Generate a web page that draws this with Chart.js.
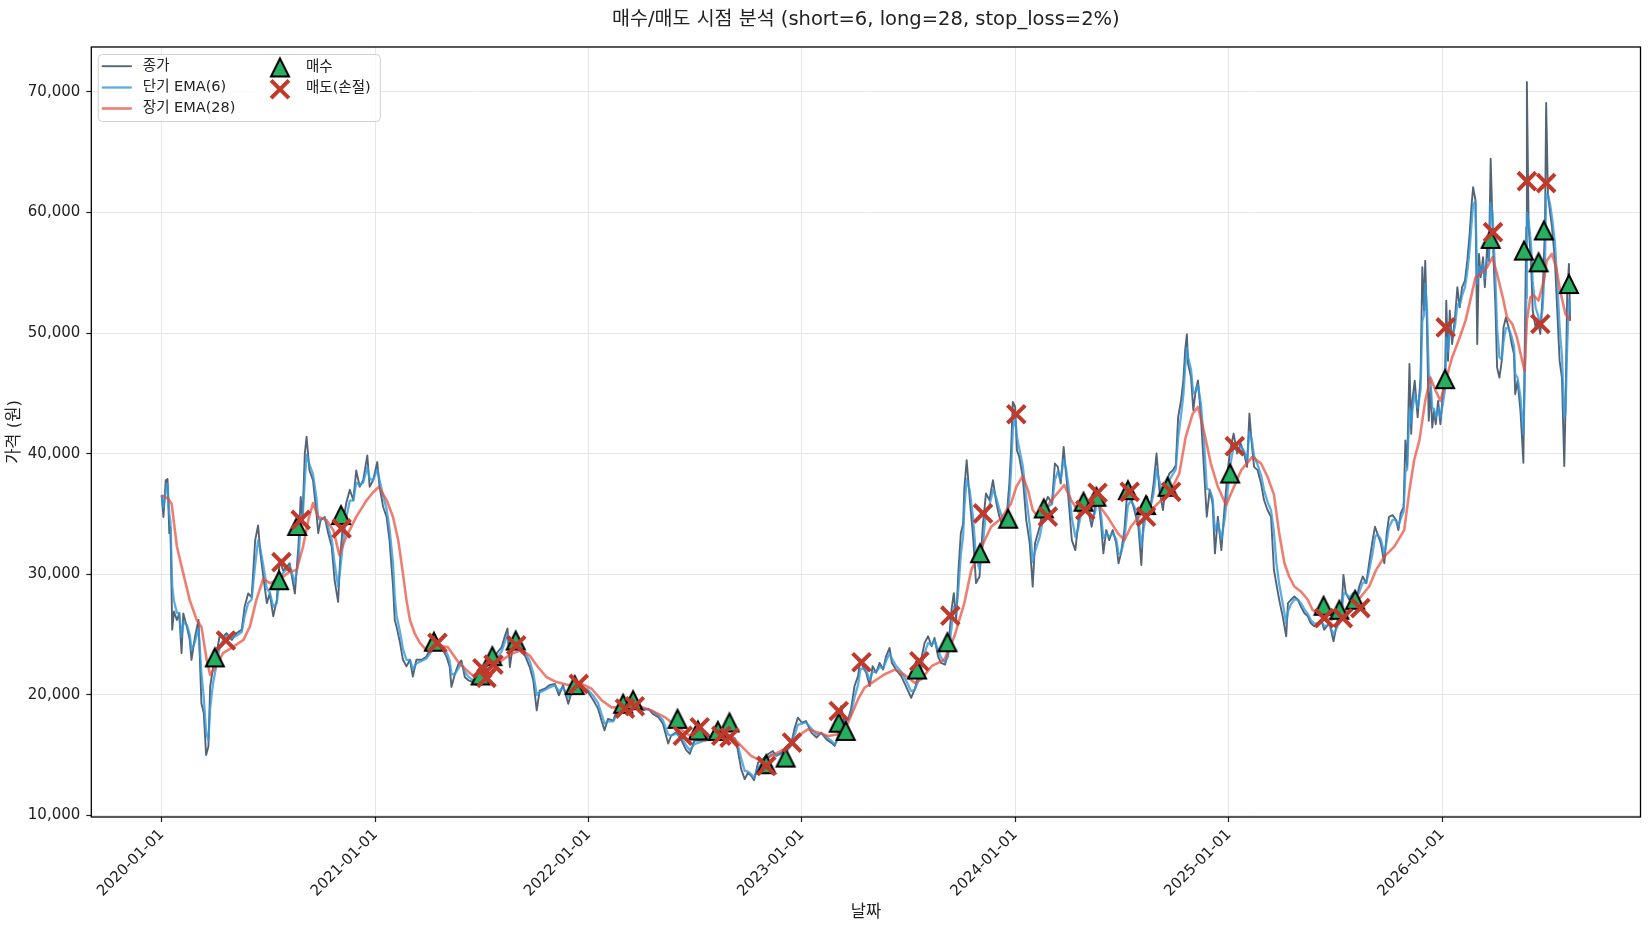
<!DOCTYPE html>
<html>
<head>
<meta charset="utf-8">
<script src="https://cdn.jsdelivr.net/npm/chart.js@4.4.1/dist/chart.umd.min.js"></script>
<style>
  html, body { margin: 0; padding: 0; background: #fff; }
  #wrap { width: 1650px; height: 930px; }
</style>
</head>
<body>
<div id="wrap"><canvas id="signalChart" width="1650" height="930"></canvas></div>
<script>
const FONT = '"DejaVu Sans", "Noto Sans CJK KR", sans-serif';
const TEXT = '#222';

// x values are days counted from 2020-01-01
const closeDays = [
  0,3,7,10,13,15,18,21,26,30,
  34,37,43,48,51,57,63,68,72,76,
  80,83,88,94,100,105,111,120,128,137,
  142,148,154,160,165,169,174,180,185,191,
  197,202,208,214,219,228,234,238,241,245,
  248,253,259,265,268,272,279,285,291,296,
  302,306,311,316,322,328,333,339,345,352,
  356,362,369,373,379,385,390,396,399,402,
  408,413,419,425,430,436,445,453,462,
  468,479,488,493,496,502,508,513,519,525,
  533,539,547,556,565,573,582,587,592,596,
  600,604,613,622,630,636,642,647,656,664,
  673,680,687,696,701,710,719,730,739,747,
  753,758,764,773,781,790,798,807,815,824,
  833,841,850,858,867,872,881,890,898,904,
  912,924,935,947,958,
  969,981,986,992,998,1004,1009,1014,1021,1029,
  1038,1046,1052,1061,1069,1078,1083,1089,1096,1103,
  1112,1121,1129,1138,1146,1152,1158,1163,1169,1175,
  1180,1186,1192,1196,1200,1206,1212,1217,1223,1229,
  1235,1240,1246,1250,1257,1266,1274,1283,1289,1295,
  1300,1306,1312,1318,1323,1329,1334,1341,1346,1352,
  1356,1360,1364,1368,1372,1374,1378,1383,1389,1394,
  1400,1406,1411,1417,1423,1429,1434,1440,
  1446,1451,1454,1457,1461,1464,1468,1474,1480,1486,
  1491,1495,1503,1508,1517,1524,1529,1534,1539,1544,
  1548,1552,1558,1564,1569,1575,1581,1586,1592,1597,
  1602,1608,1612,1617,1622,1628,1634,1638,1642,1648,
  1654,1659,1665,1672,1677,1681,1687,1692,1698,1703,
  1708,1714,1719,1725,1731,1736,1740,1745,1749,1752,
  1755,1757,1762,1766,1770,1774,1779,1785,1789,1794,
  1799,1803,1808,1814,1820,1825,1829,1835,1841,1847,
  1853,1858,1862,1866,1870,1876,1882,1887,1893,1899,
  1904,
  1908,1913,1919,1925,1928,1933,1939,1945,1950,1956,
  1962,1967,1973,1979,1985,1990,1999,2006,2013,2019,
  2023,2027,2033,2039,2044,2050,2056,2062,2067,2073,
  2077,2081,2087,2093,2097,2101,2107,2113,2117,2121,
  2126,2129,2132,2136,2139,2141,2145,2150,
  2155,2158,2161,2163,2166,2169,2172,2175,2178,2181,
  2185,2189,2193,2197,2199,2202,2205,2209,2214,2218,
  2222,2226,2231,2235,2239,2242,2245,2249,2252,2255,
  2258,2262,2265,2269,2272,2275,2278,2280,2283,2286,
  2290,2294,2297,2301,2306,2311,2315,2317,2321,2326,
  2331,2333,2336,2337,2340,2344,2347,2352,2356,2360,
  2364,2368,2370,2373,2377,2380,2385,2389,2393,2397,
  2401,2403,2406,2409,2411
];

const closeVals = [
  36550,34750,37800,37900,33400,33900,25400,26900,26200,26750,
  23450,26750,25650,24550,22900,24800,26200,19300,18500,15000,
  15700,20700,22300,23450,25100,24800,25100,24550,25100,25400,
  27300,28400,28100,32800,34050,31700,29800,27600,28400,26500,
  27850,31150,30300,30600,30900,28400,32300,36400,34500,40000,
  41400,38600,37800,35000,33400,34500,34750,33400,32300,29500,
  27700,31700,34500,35900,37000,36150,38600,37250,37800,39850,
  37250,37800,39300,37250,35600,34750,32800,29000,26200,25650,
  24300,22900,22350,22900,21500,22900,22900,23150,24000,
  24800,23950,23100,22300,20650,21750,22550,22850,21450,21200,
  21050,20800,21200,22300,22850,23400,23950,24800,25500,22300,
  23700,24800,23700,23250,22300,21200,18700,20350,20500,20800,
  20900,19950,20800,19250,20100,20500,20800,20200,19550,18850,
  17850,17050,18000,17850,18950,19550,19550,19250,18950,18700,
  18850,18400,18150,17600,15950,16600,16900,16200,15400,15100,
  16200,16200,16500,16700,16500,
  16720,16300,15480,13830,13000,13550,13280,12900,14380,14650,
  15070,15340,14930,15200,15480,16030,17130,18100,17680,17820,
  16860,16450,16860,16300,16030,15760,16580,19060,17680,17960,
  18790,20720,21540,22920,22370,21820,20720,22370,21820,22640,
  22090,23190,23880,22640,22090,21540,20720,19750,20440,21540,
  22920,24300,24850,24020,24710,23190,22640,22500,23470,27050,
  28430,26230,30360,33390,34210,37110,39450,36420,33110,29260,
  29810,34210,36690,36140,37800,35870,34770,33940,
  34490,37520,40280,44290,43870,40280,39730,38080,34490,32560,
  28970,32560,33940,35320,36420,35870,39180,38900,37520,40560,
  38350,36420,32830,32000,34210,36420,35870,35320,33940,35320,
  36970,34210,31730,33660,32830,33660,32560,30900,31730,33660,
  37520,36420,35320,33940,30760,34770,36420,35320,37520,40010,
  36970,35320,37520,38350,38630,39040,43040,44420,46080,48560,
  49890,47460,46360,43600,45250,46080,43040,38080,34770,36970,
  35870,31730,34770,32000,35870,38630,40280,41660,40010,40840,
  40010,38900,43320,40840,38900,38630,37520,36150,35320,34770,
  30350,
  29250,27880,26500,24850,27600,27880,28150,27880,27330,26780,
  26500,25950,25670,25950,26220,25400,25950,24430,26220,26500,
  29940,28430,27880,28430,27600,28980,29810,29250,30910,32840,
  33940,33390,32560,30910,33390,34760,34900,34490,33660,35040,
  35590,41100,38900,47440,41650,44410,46060,43030,
  46300,55460,51860,56010,50470,42720,45490,42160,43550,42440,
  44380,42440,44930,46300,52690,47700,51860,49090,51300,53800,
  52130,53800,54350,56010,58230,60440,62110,61000,49090,56570,
  54630,56290,53800,57120,56010,64460,59340,56010,52410,47150,
  46300,47700,50470,51300,50470,49090,48250,44930,46040,43550,
  39250,47700,58780,70830,58780,56010,51860,50470,51030,49920,
  53240,58780,69090,61550,59890,58780,56010,51860,47700,46300,
  38970,43550,53240,55740,51030
];

// short EMA(6), read at the same days as the close
const ema6Vals = [
  36550,35500,36900,37500,35000,34400,29000,27800,26800,26800,
  24800,26000,25800,25000,23700,24400,25500,21800,19800,16900,
  16200,18900,21000,22500,24100,24500,24900,24700,24900,25200,
  26500,27600,27900,30800,32800,32100,30700,28800,28500,27300,
  27600,29700,30100,30400,30700,29300,31100,34300,34400,37800,
  39900,39100,38300,36300,34600,34500,34700,33900,32900,30900,
  29000,30600,32900,34700,36100,36100,37600,37400,37600,38900,
  37900,37800,38700,37800,36500,35400,33800,30900,28100,26600,
  25200,23800,22900,22900,22100,22600,22800,23000,23600,
  24300,24100,23500,22800,21700,21700,22200,22600,21900,21500,
  21200,21000,21100,21800,22400,23000,23600,24300,25000,23400,
  23600,24300,23900,23500,22800,21800,20000,20200,20400,20600,
  20800,20300,20600,19800,20000,20300,20600,20400,19900,19300,
  18400,17600,17800,17800,18500,19100,19400,19300,19100,18800,
  18800,18600,18300,17900,16700,16600,16800,16400,15800,15400,
  15900,16100,16300,16500,16500,
  16600,16400,15900,14700,13700,13600,13400,13100,13900,14400,
  14800,15100,15000,15100,15300,15800,16600,17500,17600,17700,
  17200,16700,16800,16500,16200,15900,16300,17900,17800,17900,
  18400,19800,20800,22100,22200,22000,21200,21900,21900,22300,
  22200,22800,23400,23000,22400,21900,21200,20300,20400,21100,
  22200,23500,24300,24100,24500,23700,23100,22700,23200,25500,
  27300,26700,28900,31600,33200,35500,37900,37000,34700,31400,
  30400,32700,35100,35700,37000,36300,35400,34500,
  34500,36300,38700,42000,43100,41400,40400,39000,36300,34100,
  31000,31900,33100,34400,35600,35800,37800,38500,37900,39500,
  38800,37400,34700,33100,33800,35300,35600,35400,34500,35000,
  36200,35000,33000,33400,33100,33400,32900,31700,31700,32900,
  35700,36100,35600,34600,32300,33800,35400,35400,36700,38700,
  37700,36300,37000,37800,38300,38700,41300,43200,44900,47100,
  48800,48000,47000,45000,45100,45700,44100,40500,37100,37000,
  36300,33600,34300,32900,34700,37100,39000,40600,40200,40600,
  40200,39400,41800,41200,39800,39100,38200,37000,36000,35300,
  33500,
  31000,29200,27600,25900,26900,27500,27900,27900,27600,27100,
  26700,26200,25900,25900,26100,25700,25800,25000,25700,26200,
  28400,28400,28100,28300,27900,28500,29300,29300,30300,31800,
  33100,33300,32900,31700,32700,33900,34500,34500,34000,34600,
  35200,38500,38700,43700,42500,43600,45000,43800,
  45300,51000,51500,54100,52000,46700,46000,43800,43700,43000,
  43800,43000,44100,45400,49600,48500,50400,49700,50600,52400,
  52300,53100,53800,55100,56900,58900,60700,60900,54100,55500,
  55000,55700,54600,56100,56000,60800,60000,57700,54700,50400,
  48000,47800,49300,50400,50400,49700,48900,46600,46300,44700,
  41600,45100,52900,60000,59300,57400,54200,52100,51500,50600,
  52100,55900,61500,61500,60600,59600,57500,54300,50500,48100,
  43000,43300,48900,52800,52000
];

const ema28Days = [
  0,11,17,26,37,48,60,68,77,83,
  91,105,123,140,151,162,174,185,197,208,
  219,231,242,251,259,268,282,294,304,316,
  333,351,362,372,385,396,405,413,419,425,
  433,442,453,465,490,508,525,542,559,582,
  599,616,630,644,659,676,696,719,736,753,
  770,793,815,838,861,884,907,929,958,975,
  992,1009,1026,1043,1066,1089,1106,1123,1141,1158,
  1175,1192,1203,1220,1237,1255,1271,1289,1300,1318,
  1340,1357,1374,1386,1397,1409,1420,1437,1454,1463,
  1474,1483,1491,1500,1511,1528,1545,1557,1571,1585,
  1602,1619,1637,1648,1659,1677,1694,1711,1728,1742,
  1753,1765,1774,1785,1796,1808,1822,1833,1848,1867,
  1882,1893,1904,1913,1922,1930,1939,1950,1962,1970,
  1985,2002,2019,2036,2053,2067,2079,2093,2110,2127,
  2136,2144,2153,2163,2172,2181,2189,2198,2209,2220,
  2232,2240,2249,2258,2269,2278,2286,2297,2303,2312,
  2320,2329,2333,2337,2343,2349,2357,2366,2371,2380,
  2387,2394,2403,2411
];
const ema28Vals = [
  36550,36250,35850,32300,30050,27850,26200,25650,22900,21650,
  22200,23450,24000,24550,25650,27850,29650,29250,29500,29800,
  30200,30350,32300,34500,35900,34750,34500,33650,31600,33100,
  34750,36150,36800,37250,36150,34750,32800,30050,27850,26200,
  25100,24300,23700,24100,23950,22700,21900,21200,21600,22850,
  23400,23700,23250,22300,21450,21050,20800,20900,20500,19550,
  18950,18950,19100,18700,18150,17300,16500,16200,16400,16580,
  15760,14930,14520,14930,15480,16580,17130,16860,16580,16720,
  17680,19610,20580,21130,21680,22090,21680,20990,21270,22370,
  22920,24850,27600,30360,31460,32840,33940,34630,35870,37250,
  38130,36970,35320,34770,35320,36420,37390,36150,35040,35320,
  35870,34770,33390,32830,33940,35040,35320,36150,36970,38350,
  41390,43320,43870,41660,39180,37250,35730,36970,38630,39730,
  39180,38080,36600,33390,30910,29810,28980,28570,27880,27050,
  26500,26220,26640,27330,28150,28980,30360,31460,32290,33660,
  36970,39450,41100,44380,46300,45200,44380,46040,47980,49360,
  51030,52690,54630,54900,55460,56290,54900,52690,51300,50750,
  49640,47700,46870,51030,52970,53100,52690,54350,56010,56570,
  55460,53520,51580,51030
];

const buyDays = [91,201,232,307,466,546,566,606,707,790,807,883,918,952,972,1035,1068,1159,1171,1293,
  1345,1401,1449,1510,1578,1600,1654,1685,1722,1829,1989,2016,2043,2197,2275,2332,2357,2366,2409];
const buyVals = [23100,29500,34000,34900,24400,21600,23200,24500,20800,19250,19550,18000,17040,17000,17700,14240,14790,17680,17000,22090,
  24350,31740,34600,35450,36010,36420,36970,35730,37250,38350,27380,27050,27880,46180,57810,56840,55870,58510,54070];

const sellDays = [110,205,238,308,472,549,556,568,607,714,793,810,892,921,958,972,1035,1079,1159,1198,
  1297,1350,1406,1463,1517,1581,1602,1657,1685,1728,1837,1990,2022,2052,2198,2279,2337,2360,2370];
const sellVals = [24500,31000,34500,33800,24300,22200,21400,22500,24100,20900,18850,19050,16600,17300,16600,16450,14100,16030,18650,22700,
  22780,26560,35040,43270,34770,35320,36750,36830,34770,36830,40620,26360,26360,27190,50470,58370,62600,50750,62440];

const xTickDays = [0, 366, 731, 1096, 1461, 1827, 2192];
const xTickLabels = ['2020-01-01', '2021-01-01', '2022-01-01', '2023-01-01', '2024-01-01', '2025-01-01', '2026-01-01'];
const yTickVals = [10000, 20000, 30000, 40000, 50000, 60000, 70000];

const titleText = '매수/매도 시점 분석 (short=6, long=28, stop_loss=2%)';
const seriesNames = ['종가', '단기 EMA(6)', '장기 EMA(28)', '매수', '매도(손절)'];

const closeColor = 'rgba(52, 73, 94, 0.85)';
const ema6Color = 'rgba(52, 152, 219, 0.8)';
const ema28Color = 'rgba(231, 76, 60, 0.72)';
const buyFill = '#27ae60';
const sellColor = '#c0392b';

function toPoints(xs, ys) {
  return xs.map((x, i) => ({ x: x, y: ys[i] }));
}

// matplotlib-like "^" marker as a small canvas
function makeTriangle(size) {
  const c = document.createElement('canvas');
  c.width = c.height = Math.ceil(size + 8);
  const g = c.getContext('2d');
  const m = c.width / 2, h = size / 2;
  g.beginPath();
  g.moveTo(m, m - h);
  g.lineTo(m - h, m + h);
  g.lineTo(m + h, m + h);
  g.closePath();
  g.fillStyle = buyFill;
  g.fill();
  g.lineJoin = 'miter';
  g.lineWidth = 2;
  g.strokeStyle = '#000';
  g.stroke();
  return c;
}
const triangle = makeTriangle(18);

// title, frame and the two-column legend
const decorations = {
  id: 'decorations',
  afterDraw(chart) {
    const { ctx, chartArea: a } = chart;
    ctx.save();

    ctx.fillStyle = TEXT;
    ctx.font = '19.5px ' + FONT;
    ctx.textAlign = 'center';
    ctx.textBaseline = 'middle';
    ctx.fillText(titleText, (a.left + a.right) / 2, 20);

    ctx.strokeStyle = '#000';
    ctx.lineWidth = 1.3;
    ctx.strokeRect(a.left, a.top, a.right - a.left, a.bottom - a.top);

    const bx = a.left + 7, by = a.top + 7.5, bw = 282, bh = 67;
    ctx.beginPath();
    ctx.roundRect(bx, by, bw, bh, 4);
    ctx.fillStyle = 'rgba(255,255,255,0.8)';
    ctx.fill();
    ctx.strokeStyle = '#d0d0d0';
    ctx.lineWidth = 1;
    ctx.stroke();

    const rows = [by + 11.7, by + 33, by + 54];
    const lines = [[closeColor, 1.9], [ema6Color, 2.3], [ema28Color, 2.6]];
    ctx.font = '14.5px ' + FONT;
    ctx.textAlign = 'left';
    ctx.textBaseline = 'middle';
    lines.forEach((l, i) => {
      ctx.beginPath();
      ctx.moveTo(bx + 3.5, rows[i]);
      ctx.lineTo(bx + 33.5, rows[i]);
      ctx.strokeStyle = l[0];
      ctx.lineWidth = l[1];
      ctx.stroke();
      ctx.fillStyle = TEXT;
      ctx.fillText(seriesNames[i], bx + 44.5, rows[i]);
    });

    const mx = bx + 181.7;
    ctx.drawImage(triangle, mx - triangle.width / 2, by + 13 - triangle.height / 2);
    const xy = by + 34.7, r = 8.9;
    ctx.beginPath();
    ctx.moveTo(mx - r, xy - r); ctx.lineTo(mx + r, xy + r);
    ctx.moveTo(mx + r, xy - r); ctx.lineTo(mx - r, xy + r);
    ctx.strokeStyle = sellColor;
    ctx.lineWidth = 4;
    ctx.stroke();
    ctx.fillStyle = TEXT;
    ctx.fillText(seriesNames[3], bx + 207.7, by + 13);
    ctx.fillText(seriesNames[4], bx + 207.7, by + 33.4);

    ctx.restore();
  }
};

Chart.defaults.font.family = FONT;
Chart.defaults.color = TEXT;

const ctx = document.getElementById('signalChart').getContext('2d');
new Chart(ctx, {
  type: 'line',
  data: {
    datasets: [
      {
        type: 'scatter', label: seriesNames[4], data: toPoints(sellDays, sellVals),
        pointStyle: 'crossRot', pointRadius: 12.6, pointBorderWidth: 4,
        borderColor: sellColor, backgroundColor: sellColor, order: 0
      },
      {
        type: 'scatter', label: seriesNames[3], data: toPoints(buyDays, buyVals),
        pointStyle: triangle, pointRadius: 10, order: 1
      },
      {
        label: seriesNames[2], data: toPoints(ema28Days, ema28Vals),
        borderColor: ema28Color, borderWidth: 2.6, pointRadius: 0, tension: 0,
        borderJoinStyle: 'round', order: 2
      },
      {
        label: seriesNames[1], data: toPoints(closeDays, ema6Vals),
        borderColor: ema6Color, borderWidth: 2.3, pointRadius: 0, tension: 0,
        borderJoinStyle: 'round', order: 3
      },
      {
        label: seriesNames[0], data: toPoints(closeDays, closeVals),
        borderColor: closeColor, borderWidth: 1.9, pointRadius: 0, tension: 0,
        borderJoinStyle: 'round', order: 4
      }
    ]
  },
  options: {
    responsive: false,
    devicePixelRatio: 1,
    animation: false,
    events: [],
    layout: { autoPadding: false, padding: { left: 5, right: 9.5, top: 47, bottom: 4 } },
    plugins: {
      legend: { display: false },
      tooltip: { enabled: false },
      title: { display: false }
    },
    scales: {
      x: {
        type: 'linear',
        min: -120.5,
        max: 2531.5,
        afterBuildTicks: (s) => { s.ticks = xTickDays.map(v => ({ value: v })); },
        afterFit: (s) => { s.height = 109; },
        grid: { color: '#e6e6e6', lineWidth: 1, tickColor: '#222', tickLength: 5, tickWidth: 1.2 },
        border: { display: false },
        ticks: {
          minRotation: 45, maxRotation: 45, padding: 4, color: TEXT,
          font: { size: 15 },
          callback: (v, i) => xTickLabels[i]
        },
        title: { display: true, text: '날짜', color: TEXT, font: { size: 16.5 }, padding: { top: 0, bottom: 3 } }
      },
      y: {
        type: 'linear',
        min: 9860,
        max: 73730,
        afterBuildTicks: (s) => { s.ticks = yTickVals.map(v => ({ value: v })); },
        afterFit: (s) => { s.width = 86.3; },
        grid: { color: '#e6e6e6', lineWidth: 1, tickColor: '#222', tickLength: 5, tickWidth: 1.2 },
        border: { display: false },
        ticks: {
          padding: 6, color: TEXT, font: { size: 15 },
          callback: (v) => v.toLocaleString('en-US')
        },
        title: { display: true, text: '가격 (원)', color: TEXT, font: { size: 16.5 }, padding: { top: 0, bottom: 0 } }
      }
    }
  },
  plugins: [decorations]
});
</script>
</body>
</html>
